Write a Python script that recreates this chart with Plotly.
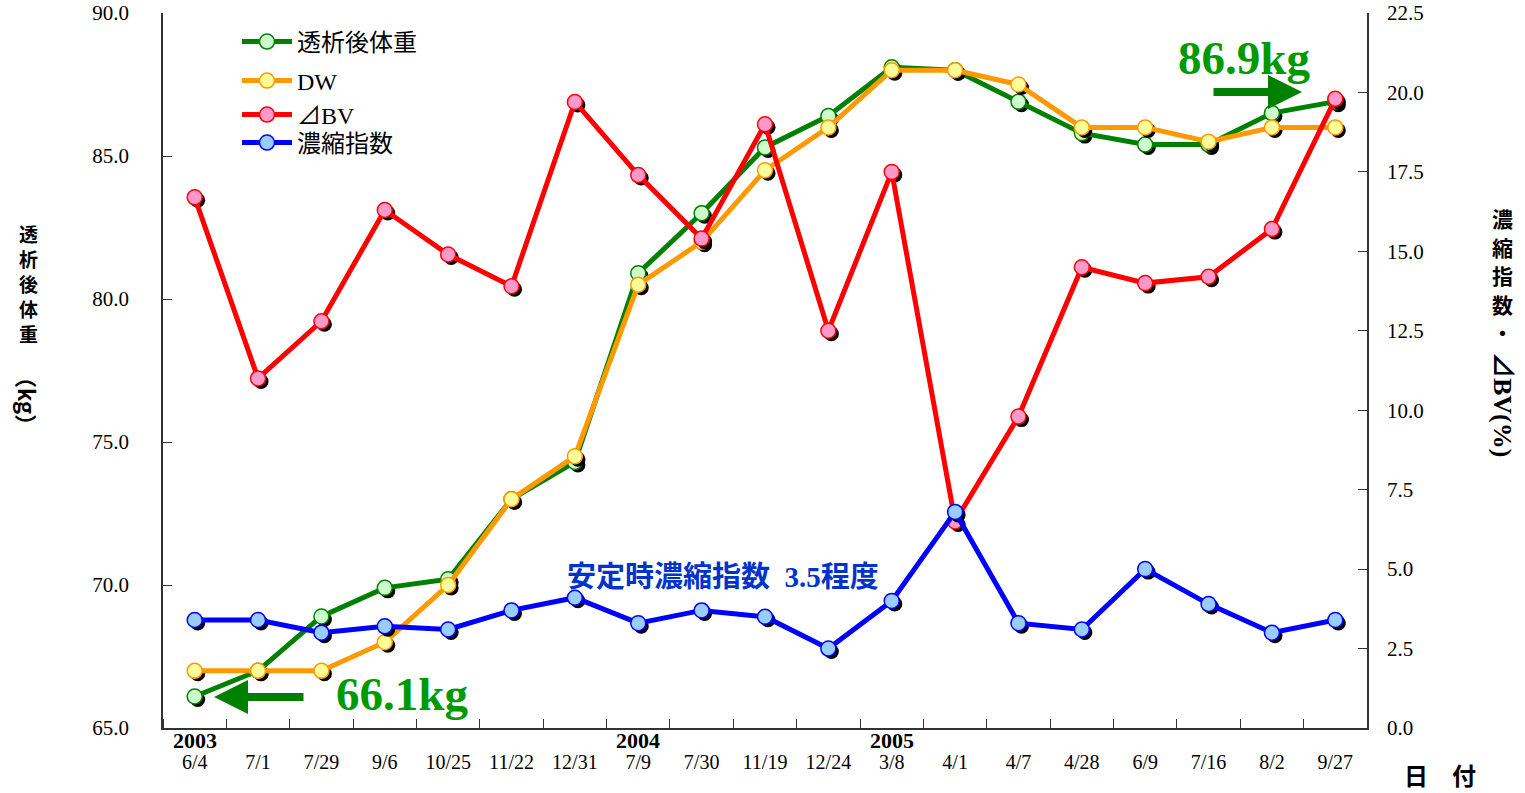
import plotly.graph_objects as go

# ---------------- data ----------------
dates = ["6/4", "7/1", "7/29", "9/6", "10/25", "11/22", "12/31", "7/9", "7/30",
         "11/19", "12/24", "3/8", "4/1", "4/7", "4/28", "6/9", "7/16", "8/2", "9/27"]
year_marks = {0: "2003", 7: "2004", 11: "2005"}

weight = [66.1, 67.0, 68.9, 69.9, 70.2, 73.0, 74.3, 80.9, 83.0, 85.3, 86.4,
          88.1, 88.0, 86.9, 85.8, 85.4, 85.4, 86.5, 86.9]          # 透析後体重 (kg)
dw = [67.0, 67.0, 67.0, 68.0, 70.0, 73.0, 74.5, 80.5, 82.0, 84.5, 86.0,
      88.0, 88.0, 87.5, 86.0, 86.0, 85.5, 86.0, 86.0]              # DW (kg)
dbv = [16.7, 11.0, 12.8, 16.3, 14.9, 13.9, 19.7, 17.4, 15.4, 19.0, 12.5,
       17.5, 6.5, 9.8, 14.5, 14.0, 14.2, 15.7, 19.8]               # ⊿BV (%)
conc = [3.4, 3.4, 3.0, 3.2, 3.1, 3.7, 4.1, 3.3, 3.7, 3.5, 2.5,
        4.0, 6.8, 3.3, 3.1, 5.0, 3.9, 3.0, 3.4]                    # 濃縮指数

left_range = [65, 90]
right_range = [0, 22.5]

left_title_chars = ["透", "析", "後", "体", "重"]
right_title_chars = ["濃", "縮", "指", "数", "・"]

# ---------------- layout geometry (pixels) ----------------
W, H = 1525, 793
L, R, T, B = 163, 1367, 13, 728


def px(x):
    return (x - L) / (R - L)


def py(y):
    return (B - y) / (B - T)


idx = list(range(len(dates)))
n = len(dates)
# shadow offset ~3px right / 3px down, converted to axis units
sdx = 3 / ((R - L) / n)
sdy_l = 3 * (left_range[1] - left_range[0]) / (B - T)
sdy_r = 3 * (right_range[1] - right_range[0]) / (B - T)

SERIF = "Liberation Serif, Noto Sans CJK JP"
SANS = "Noto Sans CJK JP"

fig = go.Figure()

series = [
    ("透析後体重", weight, "#008000", "#CCFFCC", "y", sdy_l, "legend"),
    ("DW", dw, "#FF9900", "#FFFF99", "y", sdy_l, "legend2"),
    ("⊿BV", dbv, "#FF0000", "#FF99CC", "y2", sdy_r, "legend3"),
    ("濃縮指数", conc, "#0000FF", "#99CCFF", "y2", sdy_r, "legend4"),
]

for name, vals, lc, fc, yax, sdy, lg in series:
    # marker shadow
    fig.add_trace(go.Scatter(
        x=[i + sdx for i in idx], y=[v - sdy for v in vals], yaxis=yax,
        mode="markers", marker=dict(size=15, color="black", line=dict(width=0)),
        showlegend=False, hoverinfo="skip"))
    fig.add_trace(go.Scatter(
        x=idx, y=vals, yaxis=yax, name=name, legend=lg,
        mode="lines+markers",
        line=dict(color=lc, width=5),
        marker=dict(size=15, color=fc, line=dict(color=lc, width=1.5))))

legend_y = {"legend": 42, "legend2": 81, "legend3": 115, "legend4": 143}
legends = {}
for k, yy in legend_y.items():
    legends[k] = dict(x=px(237), y=py(yy), xanchor="left", yanchor="middle",
                      bgcolor="rgba(0,0,0,0)", borderwidth=0,
                      font=dict(family=SERIF, size=24, color="black"),
                      itemwidth=50)

axis_line = dict(showline=True, linecolor="#333333", linewidth=1.5,
                 showgrid=False, zeroline=False, automargin=False)


def note(text, x, y, size, color="black", family=SERIF, angle=0, xref="paper"):
    return dict(text=text, x=x, y=y, xref=xref, yref="paper", showarrow=False,
                xanchor="center", yanchor="middle", textangle=angle,
                font=dict(family=family, size=size, color=color))


annotations = []
# year labels under the first date of each year
for i, yr in year_marks.items():
    annotations.append(note("<b>%s</b>" % yr, idx[i], py(741), 22, xref="x"))
# big value labels
annotations.append(note("<b>66.1kg</b>", px(402), py(694), 47, "#009900", "Liberation Serif"))
annotations.append(dict(text="", x=px(214), y=py(697), ax=305 - 214, ay=0,
                        xref="paper", yref="paper", axref="pixel", ayref="pixel",
                        showarrow=True, arrowhead=2, arrowsize=0.85, arrowwidth=8, arrowcolor="#008000"))
annotations.append(note("<b>86.9kg</b>", px(1244), py(58), 47, "#009900", "Liberation Serif"))
annotations.append(dict(text="", x=px(1302), y=py(92), ax=1212 - 1302, ay=0,
                        xref="paper", yref="paper", axref="pixel", ayref="pixel",
                        showarrow=True, arrowhead=2, arrowsize=0.85, arrowwidth=8, arrowcolor="#008000"))
# stable concentration note
annotations.append(note("<b>安定時濃縮指数  3.5程度</b>", px(723), py(577), 29, "#0033CC"))
# left axis title (upright characters, stacked)
for ch, yy in zip(left_title_chars, [233, 258, 283, 308, 333]):
    annotations.append(note("<b>%s</b>" % ch, px(28), py(yy), 19, family=SANS))
annotations.append(note("<b>（kg）</b>", px(28), py(401), 22, angle=90, family=SANS))
# right axis title
for ch, yy in zip(right_title_chars, [218, 246.5, 275, 303.5, 332]):
    annotations.append(note("<b>%s</b>" % ch, px(1502), py(yy), 21, family=SANS))
annotations.append(note("<b>⊿BV(%)</b>", px(1502), py(404), 26, angle=90))
# x axis title
annotations.append(note("<b>日　付</b>", px(1440), py(774), 24, family=SANS))

fig.update_layout(
    width=W, height=H, autosize=False,
    margin=dict(l=L, r=W - R, t=T, b=H - B, pad=0),
    paper_bgcolor="white", plot_bgcolor="white",
    xaxis=dict(range=[-0.5, n - 0.5], tickmode="array", tickvals=idx, ticktext=dates,
               ticks="", ticklabelstandoff=15,
               tickfont=dict(family=SERIF, size=20, color="black"),
               minor=dict(tickvals=[i - 0.5 for i in idx] + [n - 0.5], ticks="inside",
                          ticklen=9, tickcolor="#333333", tickwidth=1.2),
               **axis_line),
    yaxis=dict(range=left_range, dtick=5, tick0=65, tickformat=".1f", ticks="inside",
               ticklen=9, tickcolor="#333333", tickwidth=1.2, ticklabelstandoff=28,
               tickfont=dict(family=SERIF, size=21, color="black"), **axis_line),
    yaxis2=dict(range=right_range, dtick=2.5, tick0=0, tickformat=".1f", ticks="inside",
                ticklen=9, tickcolor="#333333", tickwidth=1.2, ticklabelstandoff=14,
                overlaying="y", side="right",
                tickfont=dict(family=SERIF, size=21, color="black"), **axis_line),
    annotations=annotations,
    hovermode=False,
    **legends,
)

fig.write_html("out.html")
